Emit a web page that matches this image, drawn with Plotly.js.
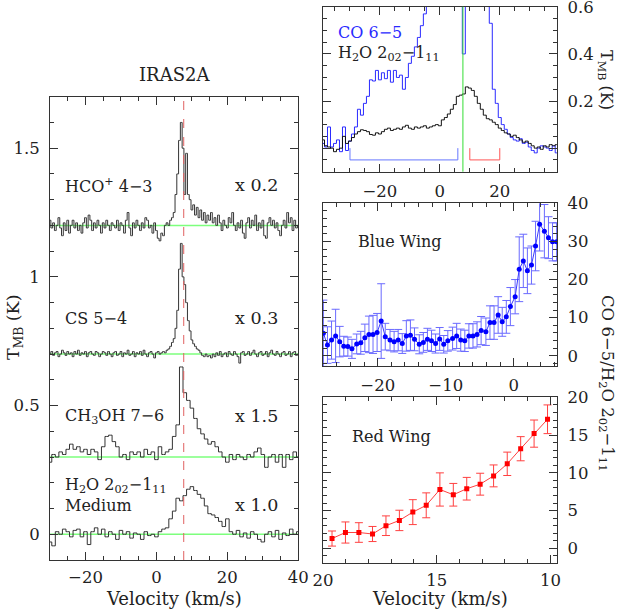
<!DOCTYPE html>
<html>
<head>
<meta charset="utf-8">
<script src="https://cdn.plot.ly/plotly-3.0.1.min.js"></script>
<style>
  html, body { margin: 0; padding: 0; background: #fff; }
  #plot { width: 621px; height: 610px; }
</style>
</head>
<body>
<div id="plot"></div>
<script>
// ---- data ----
const VLSR = 7.7;

// left panel: spectra, already scaled, relative to their baselines
const OFFSETS = [1.2, 0.7, 0.3, 0.0];          // HCO+, CS, CH3OH, H2O
const LABELS = ['HCO<sup>+</sup> 4\u22123', 'CS 5\u22124', 'CH<sub>3</sub>OH 7\u22126',
                'H<sub>2</sub>O 2<sub>02</sub>\u22121<sub>11</sub>'];
const FACTORS = ['x 0.2', 'x 0.3', 'x 1.5', 'x 1.0'];

const hcoV0 = -30, hcoDV = 0.5;
const hcoT = [
  0.02,-0.01,0.01,-0.02,0.00,0.03,-0.01,-0.04,0.01,-0.02,
  0.02,-0.03,0.00,0.02,-0.01,0.01,-0.02,0.00,-0.03,0.01,
  0.03,-0.01,0.04,0.02,-0.02,0.01,-0.01,0.02,0.00,-0.03,
  0.01,-0.01,0.02,0.00,-0.02,0.01,0.00,-0.01,0.02,-0.02,
  0.01,0.00,-0.03,0.02,0.05,-0.01,-0.04,0.01,-0.01,0.02,
  0.00,-0.02,0.01,-0.01,0.03,0.02,-0.01,0.00,-0.03,0.01,
  -0.02,-0.05,-0.06,-0.03,-0.04,0.00,0.01,0.00,0.02,0.03,
  0.05,0.12,0.20,0.33,0.40,0.30,0.12,0.28,0.12,0.10,
  0.06,0.08,0.04,0.07,0.03,0.06,0.02,0.05,0.01,0.04,
  0.02,0.05,0.01,0.03,0.00,0.04,0.01,-0.02,0.02,0.00,
  -0.01,0.03,0.01,0.05,0.00,-0.02,0.01,-0.01,0.02,-0.03,
  -0.05,0.01,0.03,-0.01,0.02,0.00,0.04,-0.02,0.01,-0.01,
  0.02,-0.04,-0.05,0.01,0.03,0.00,0.02,-0.01,0.01,-0.02,
  -0.04,0.00,0.02,-0.01,0.05,0.01,0.03,-0.02,0.02,-0.01,
  0.00
];

const csV0 = -30, csDV = 0.5;
const csT = [
  0.000,0.010,-0.005,0.005,0.010,-0.010,0.000,0.015,0.005,-0.005,
  0.010,0.000,0.005,-0.010,0.010,0.000,0.015,-0.005,0.005,0.000,
  0.010,-0.010,0.005,0.010,0.000,-0.005,0.010,0.005,-0.010,0.000,
  0.010,0.005,-0.005,0.010,0.000,-0.010,0.005,0.010,-0.005,0.000,
  0.010,-0.010,0.005,0.000,0.015,-0.005,0.000,0.010,-0.010,0.005,
  0.000,0.010,-0.005,0.015,0.000,-0.010,0.005,0.010,0.000,-0.015,
  0.005,0.010,0.000,0.005,0.010,0.005,0.015,0.020,0.030,0.045,
  0.060,0.100,0.170,0.330,0.430,0.300,0.270,0.200,0.130,0.090,
  0.055,0.040,0.030,0.020,0.015,0.005,-0.005,-0.010,0.000,-0.010,
  -0.005,-0.015,0.000,-0.010,0.005,-0.005,0.010,-0.010,0.000,0.005,
  -0.010,0.010,0.000,-0.005,0.010,0.000,-0.010,-0.035,0.005,0.010,
  -0.005,0.000,0.010,-0.005,0.005,0.015,0.000,-0.010,0.005,0.010,
  -0.005,0.000,0.010,-0.010,0.005,0.015,0.000,-0.005,0.010,0.000,
  -0.010,0.005,0.010,-0.005,0.000,0.010,-0.010,0.005,0.010,-0.005,
  0.000
];

const ch3ohV0 = -30, ch3ohDV = 1;
const ch3ohT = [
  -0.02,0.01,0.00,0.02,0.01,0.03,0.05,0.03,0.04,0.02,
  0.03,0.01,0.03,0.02,-0.01,0.04,0.08,0.085,0.06,0.04,
  0.00,0.01,-0.01,0.02,0.01,0.02,0.00,0.03,0.01,0.02,
  -0.01,0.04,0.01,0.02,0.03,0.08,0.125,0.35,0.25,0.22,
  0.19,0.15,0.11,0.09,0.07,0.05,0.06,0.04,0.02,0.00,
  -0.02,0.01,-0.01,0.01,0.00,-0.01,0.01,0.00,0.02,0.035,
  0.01,-0.04,0.00,0.01,-0.02,0.01,-0.04,0.01,-0.01,0.02,
  0.00
];

const h2oV0 = -30, h2oDV = 1;
const h2oT = [
  -0.03,-0.045,0.01,0.00,0.02,0.01,-0.01,0.015,0.02,-0.01,
  0.01,-0.04,0.01,0.025,0.00,0.02,-0.01,0.01,0.00,-0.02,
  0.015,0.00,0.01,-0.015,0.005,0.00,-0.02,0.01,-0.005,0.00,
  -0.01,0.01,0.02,0.025,0.06,0.09,0.14,0.13,0.15,0.175,
  0.185,0.17,0.155,0.14,0.11,0.08,0.075,0.065,0.05,0.03,
  0.06,0.01,0.00,0.015,-0.01,0.005,-0.015,0.01,0.00,-0.02,
  -0.03,0.00,0.01,-0.01,0.015,-0.02,0.005,-0.005,0.02,0.00,
  0.01
];

// top right: CO 6-5 and H2O 202-111
const topV0 = -40, topDV = 1;
const coT = [
  0.05,0.02,0.005,0.09,0.005,0.02,0.035,-0.015,0.09,-0.01,
  0.03,0.06,0.09,0.165,0.14,0.19,0.22,0.29,0.285,0.33,
  0.29,0.32,0.295,0.33,0.28,0.33,0.30,0.31,0.25,0.30,
  0.36,0.39,0.43,0.47,0.52,0.57,0.70,0.85,1.00,1.20,
  1.45,1.70,2.00,2.30,2.60,2.50,1.60,0.90,0.40,1.80,
  2.60,2.80,2.40,1.90,1.40,1.00,0.80,0.53,0.25,0.19,
  0.13,0.10,0.08,0.06,0.045,0.035,0.03,0.04,0.02,0.025,
  0.005,-0.01,-0.02,0.00,0.01,0.005,0.00,-0.01,0.01,-0.02,
  0.01
];
const h2oTopT = [
  0.03,0.035,0.01,0.005,0.00,-0.015,-0.005,0.00,0.05,0.02,
  0.03,0.045,0.06,0.07,0.078,0.075,0.07,0.058,0.055,0.065,
  0.06,0.07,0.08,0.085,0.075,0.08,0.085,0.08,0.09,0.097,
  0.085,0.08,0.09,0.085,0.09,0.095,0.085,0.09,0.095,0.10,
  0.095,0.12,0.13,0.145,0.165,0.185,0.22,0.225,0.23,0.26,
  0.255,0.245,0.22,0.19,0.165,0.14,0.125,0.12,0.11,0.10,
  0.085,0.075,0.065,0.06,0.05,0.055,0.045,0.035,0.025,0.03,
  0.02,0.01,0.00,0.005,-0.005,0.01,0.005,0.015,0.01,0.015,
  0.01
];
const blueRange = [-30, 6];
const redRange = [10, 20];
const bracketLevel = -0.05;

// blue wing ratio
const blueV = [
  -28.0,-27.4,-26.8,-26.2,-25.6,-25.0,-24.4,-23.8,-23.1,-22.5,
  -21.9,-21.3,-20.7,-20.1,-19.5,-18.9,-18.2,-17.6,-17.0,-16.4,
  -15.8,-15.2,-14.6,-13.9,-13.3,-12.7,-12.1,-11.5,-10.9,-10.3,
  -9.7,-9.0,-8.4,-7.8,-7.2,-6.6,-6.0,-5.4,-4.8,-4.1,
  -3.5,-2.9,-2.3,-1.7,-1.1,-0.5,0.2,0.8,1.4,2.0,
  2.6,3.2,3.8,4.5,5.1,5.7,6.3
];
const blueR = [
  5.9,2.8,4.1,5.2,3.7,2.5,2.4,1.8,3.1,3.4,
  4.7,5.6,5.6,6.1,9.1,5.0,4.1,3.7,4.1,3.2,
  5.2,5.4,4.3,3.0,3.5,4.3,3.9,3.2,4.4,3.0,
  3.9,4.5,5.2,4.1,3.9,5.2,5.2,5.6,6.6,6.3,
  8.7,8.7,10.7,8.9,10.2,12.9,15.5,22.7,24.9,22.3,
  23.8,28.8,34.5,32.7,31.0,29.9,29.9
];
const blueErr = [
  8.7,4.8,5.0,7.0,4.0,2.6,2.5,2.5,2.6,3.0,
  3.6,4.8,5.0,5.0,9.8,3.5,2.8,2.7,2.8,2.6,
  4.0,4.0,3.0,2.5,2.6,2.9,2.8,2.5,3.0,2.3,
  2.7,3.0,3.3,2.9,2.8,3.2,3.2,3.3,3.7,3.6,
  4.4,4.4,4.8,3.8,4.3,5.0,4.5,8.5,7.0,6.0,
  5.0,6.5,7.0,7.0,5.5,5.0,5.0
];

// red wing ratio
const redV = [19.60,19.01,18.42,17.82,17.23,16.64,16.05,15.46,14.86,14.27,13.68,13.09,12.50,11.90,11.31,10.72,10.13];
const redR = [1.3,2.1,2.1,1.9,3.0,3.7,4.8,5.7,7.8,7.1,7.9,8.5,9.6,11.2,13.2,15.2,17.1];
const redErr = [1.0,1.4,1.3,1.0,1.3,1.35,1.65,1.65,2.2,1.5,1.5,1.45,1.45,1.55,1.6,1.8,1.9];

// ---- helpers ----
const W = 621, H = 610;
const FONT = 'DejaVu Serif';
const INK = '#222';
const px = x => x / W;
const py = y => 1 - y / H;
const grid = (v0, dv, n) => Array.from({length: n}, (_, i) => v0 + i * dv);
const shifted = (arr, off) => arr.map(t => t + off);

const spectra = [
  [hcoV0, hcoDV, hcoT], [csV0, csDV, csT], [ch3ohV0, ch3ohDV, ch3ohT], [h2oV0, h2oDV, h2oT]
];

const traces = spectra.map(([v0, dv, t], k) => ({
  type: 'scatter', mode: 'lines', x: grid(v0, dv, t.length), y: shifted(t, OFFSETS[k]),
  line: {color: '#333', width: 1, shape: 'hvh'}, xaxis: 'x', yaxis: 'y', hoverinfo: 'skip'
}));

traces.push({
  type: 'scatter', mode: 'lines', x: grid(topV0, topDV, coT.length), y: coT,
  line: {color: '#2a2aff', width: 1, shape: 'hvh'}, xaxis: 'x2', yaxis: 'y2'
});
traces.push({
  type: 'scatter', mode: 'lines', x: grid(topV0, topDV, h2oTopT.length), y: h2oTopT,
  line: {color: '#111', width: 1, shape: 'hvh'}, xaxis: 'x2', yaxis: 'y2'
});
traces.push({
  type: 'scatter', mode: 'lines+markers', x: blueV, y: blueR,
  line: {color: '#3a3aff', width: 1}, marker: {color: '#0000ff', size: 5},
  error_y: {type: 'data', array: blueErr, color: '#6a6aff', thickness: 1, width: 4},
  xaxis: 'x3', yaxis: 'y3'
});
traces.push({
  type: 'scatter', mode: 'lines+markers', x: redV, y: redR,
  line: {color: '#ff4040', width: 1}, marker: {color: '#ff0000', size: 5, symbol: 'square'},
  error_y: {type: 'data', array: redErr, color: '#ff4040', thickness: 1, width: 4},
  xaxis: 'x4', yaxis: 'y4'
});

function axis(extra, minorDtick) {
  return Object.assign({
    showline: true, mirror: 'allticks', linecolor: '#333', linewidth: 1,
    ticks: 'inside', ticklen: 8, tickcolor: '#333', tickwidth: 1,
    showgrid: false, zeroline: false, fixedrange: true, ticklabeloverflow: 'allow',
    tickfont: {family: FONT, size: 16.5, color: INK},
    minor: {ticks: 'inside', ticklen: 4, tickcolor: '#333', dtick: minorDtick, showgrid: false}
  }, extra);
}

const shapes = [];
OFFSETS.forEach(off => shapes.push({
  type: 'line', xref: 'x domain', yref: 'y', x0: 0, x1: 1, y0: off, y1: off,
  line: {color: '#7dff7d', width: 1.5}, layer: 'below'
}));
shapes.push({type: 'line', xref: 'x', yref: 'y domain', x0: VLSR, x1: VLSR, y0: 0, y1: 1,
  line: {color: '#e06060', width: 1, dash: 'dash'}});
shapes.push({type: 'line', xref: 'x2', yref: 'y2 domain', x0: VLSR, x1: VLSR, y0: 0, y1: 1,
  line: {color: '#33dd33', width: 1}});
[[blueRange, '#6677ff'], [redRange, '#ff5555']].forEach(([r, c]) => shapes.push({
  type: 'path', xref: 'x2', yref: 'y2',
  path: `M ${r[0]},0 L ${r[0]},${bracketLevel} L ${r[1]},${bracketLevel} L ${r[1]},0`,
  line: {color: c, width: 1}
}));

const ann = (text, x, y, o) => Object.assign({
  text, xref: 'paper', yref: 'paper', x: px(x), y: py(y), xanchor: 'left', yanchor: 'middle',
  showarrow: false, font: {family: FONT, size: 16, color: INK}
}, o || {});
const big = size => ({family: FONT, size, color: INK});

const annotations = [
  ann('IRAS2A', 175, 74, {xanchor: 'center', font: big(18)}),
  ann(LABELS[0], 63, 185), ann(FACTORS[0], 233, 185, {font: big(17.5)}),
  ann(LABELS[1], 63, 318), ann(FACTORS[1], 233, 318, {font: big(17.5)}),
  ann(LABELS[2], 63, 416), ann(FACTORS[2], 233, 416, {font: big(17.5)}),
  ann(LABELS[3], 63, 485), ann('Medium', 63, 505), ann(FACTORS[3], 233, 505, {font: big(17.5)}),
  ann('CO 6\u22125', 336, 32, {font: {family: FONT, size: 16, color: '#2a2aff'}}),
  ann('H<sub>2</sub>O 2<sub>02</sub>\u22121<sub>11</sub>', 336, 53),
  ann('Blue Wing', 356, 242),
  ann('Red Wing', 350, 436),
  ann('T<sub>MB</sub> (K)', 14, 327, {xanchor: 'center', textangle: -90, font: big(17.5)}),
  ann('T<sub>MB</sub> (K)', 606, 80, {xanchor: 'center', textangle: 90}),
  ann('CO 6\u22125/H<sub>2</sub>O 2<sub>02</sub>\u22121<sub>11</sub>', 607, 383, {xanchor: 'center', textangle: 90, font: big(16.5)}),
  ann('Velocity (km/s)', 174, 598, {xanchor: 'center', font: big(18)}),
  ann('Velocity (km/s)', 440, 598, {xanchor: 'center', font: big(18)})
];

const layout = {
  width: W, height: H, margin: {l: 0, r: 0, t: 0, b: 0},
  paper_bgcolor: '#fff', plot_bgcolor: '#fff', showlegend: false,
  font: {family: FONT, color: INK},
  xaxis: axis({domain: [px(50), px(298.3)], range: [-30, 40.001], dtick: 20, tick0: 0, anchor: 'y', ticklabelstandoff: 2}, 5),
  yaxis: axis({domain: [py(560), py(96.7)], range: [-0.1, 1.7], dtick: 0.5, tick0: 0, anchor: 'x', ticklabelstandoff: 6}, 0.1),
  xaxis2: axis({domain: [px(322.7), px(557.3)], range: [-39.1, 39.2], dtick: 20, tick0: 0, anchor: 'y2', ticklabelstandoff: 4}, 5),
  yaxis2: axis({domain: [py(171.7), py(6.7)], range: [-0.1, 0.6005], dtick: 0.2, tick0: 0, anchor: 'x2', side: 'right', ticklabelstandoff: 6}, 0.05),
  xaxis3: axis({domain: [px(322.7), px(557.3)], range: [-28.1, 6.4], dtick: 10, tick0: 0, anchor: 'y3', ticklabelstandoff: 4}, 2),
  yaxis3: axis({domain: [py(366), py(203.3)], range: [-2.7, 40.02], dtick: 10, tick0: 0, anchor: 'x3', side: 'right', ticklabelstandoff: 6}, 2),
  xaxis4: axis({domain: [px(322.7), px(557.3)], range: [20.01, 9.7], dtick: 5, tick0: 0, anchor: 'y4', ticklabelstandoff: 2}, 1),
  yaxis4: axis({domain: [py(562.7), py(397.3)], range: [-1.9, 20.01], dtick: 5, tick0: 0, anchor: 'x4', side: 'right', ticklabelstandoff: 6}, 1),
  shapes, annotations
};

Plotly.newPlot('plot', traces, layout, {displayModeBar: false, staticPlot: true});
</script>
</body>
</html>
